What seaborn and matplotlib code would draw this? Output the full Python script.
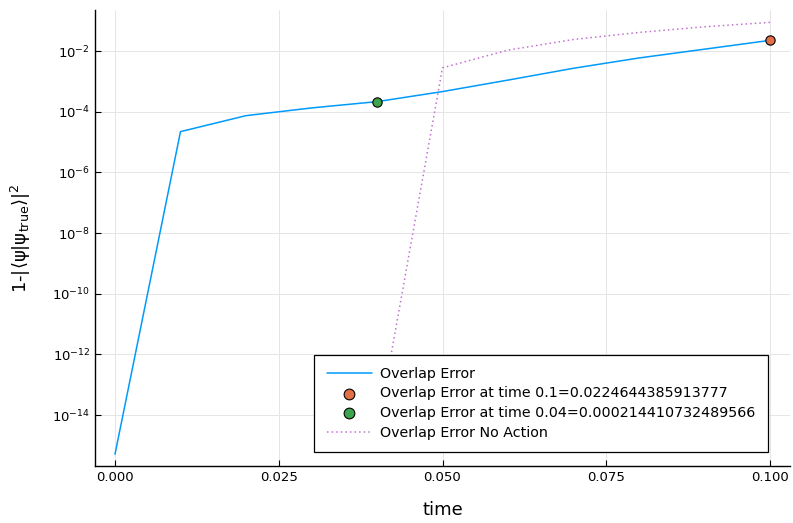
import numpy as np
import pandas as pd
import matplotlib
matplotlib.use("Agg")
import matplotlib.pyplot as plt
import matplotlib.ticker as mticker
import seaborn as sns

# ---- data ----
time = [0.00, 0.01, 0.02, 0.03, 0.04, 0.05, 0.06, 0.07, 0.08, 0.09, 0.10]
overlap_error = [5.1e-16, 2.2e-5, 7.4e-5, 1.33e-4, 2.14410732489566e-4, 4.6e-4,
                 1.1e-3, 2.7e-3, 5.9e-3, 1.15e-2, 2.24644385913777e-2]
time_no_action = [0.04, 0.05, 0.06, 0.07, 0.08, 0.09, 0.10]
overlap_error_no_action = [2.5e-15, 2.8e-3, 1.07e-2, 2.4e-2, 4.1e-2, 6.3e-2, 8.8e-2]
point_times = [0.1, 0.04]
point_values = [0.0224644385913777, 0.000214410732489566]
point_labels = ["Overlap Error at time 0.1=0.0224644385913777",
                "Overlap Error at time 0.04=0.000214410732489566"]

c_blue = "#009AFA"
c_orange = "#E26F46"
c_green = "#3DA44D"
c_purple = "#C271D2"

sns.set_theme(style="ticks")
plt.rcParams["font.family"] = ["DejaVu Sans"]
plt.rcParams["mathtext.fontset"] = "dejavusans"
for k in ["text.color", "axes.labelcolor", "xtick.color", "ytick.color"]:
    plt.rcParams[k] = "black"

fig = plt.figure(figsize=(7.93, 5.23), dpi=100)
ax = fig.add_axes([95 / 793, (523 - 466) / 523, (790 - 95) / 793, (466 - 10) / 523])

df_main = pd.DataFrame({"time": time, "err": overlap_error})
df_na = pd.DataFrame({"time": time_no_action, "err": overlap_error_no_action})

sns.lineplot(data=df_main, x="time", y="err", ax=ax, color=c_blue, linewidth=1.1,
             label="Overlap Error", zorder=3)
for t, v, lab, c in zip(point_times, point_values, point_labels, [c_orange, c_green]):
    sns.scatterplot(x=[t], y=[v], ax=ax, color=c, s=45, edgecolor="black",
                    linewidth=0.8, label=lab, zorder=4)
sns.lineplot(data=df_na, x="time", y="err", ax=ax, color=c_purple, linewidth=1.1,
             linestyle=(0, (1, 2)), label="Overlap Error No Action", zorder=3)

ax.set_yscale("log")
ax.set_xlim(-0.00305, 0.10305)
ax.set_ylim(10 ** -15.68, 10 ** -0.648)
ax.yaxis.set_major_locator(mticker.FixedLocator([10.0 ** e for e in range(-14, -1, 2)]))
ax.yaxis.set_major_formatter(mticker.LogFormatterSciNotation())
ax.yaxis.set_minor_locator(mticker.NullLocator())
ax.xaxis.set_major_locator(mticker.FixedLocator([0.0, 0.025, 0.05, 0.075, 0.1]))
ax.xaxis.set_major_formatter(mticker.FormatStrFormatter("%.3f"))

ax.grid(True, color="#e5e5e5", linewidth=0.7)
ax.set_axisbelow(True)
for s in ["top", "right"]:
    ax.spines[s].set_visible(False)
for s in ["left", "bottom"]:
    ax.spines[s].set_color("black")
    ax.spines[s].set_linewidth(1.0)
ax.tick_params(direction="in", length=4, width=0.8, colors="black", labelsize=9.5)

ax.set_xlabel("time", fontsize=13, labelpad=12)
ax.set_ylabel(r"1-$|\langle\mathrm{\psi}|\mathrm{\psi}_{\mathrm{true}}\rangle|^2$",
              fontsize=13, labelpad=14)

leg = ax.legend(loc="lower right", fontsize=10.3, frameon=True, fancybox=False,
                edgecolor="black", framealpha=1.0, handlelength=3.2,
                handletextpad=0.55, labelspacing=0.4, borderpad=0.85,
                markerscale=1.15, bbox_to_anchor=(0.978, 0.015))
leg.get_frame().set_linewidth(0.9)

fig.savefig("out.png", dpi=100)
